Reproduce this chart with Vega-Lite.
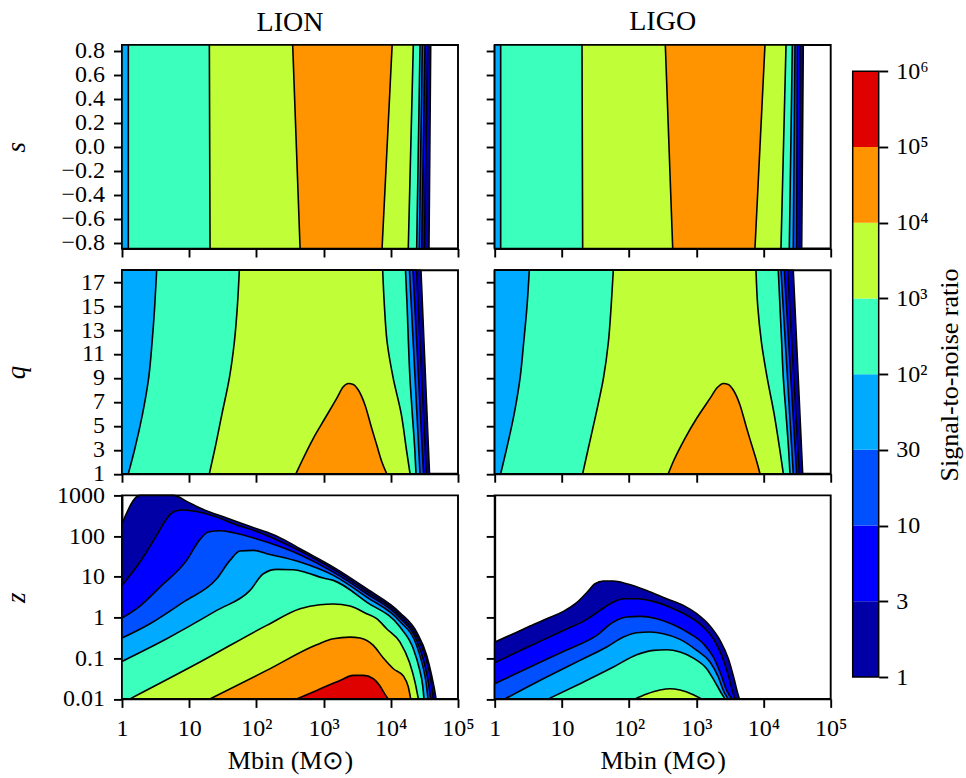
{
  "$schema": "https://vega.github.io/schema/vega-lite/v6.json",
  "background": "white",
  "padding": {"left": 1, "top": 6, "right": 5, "bottom": 5},
  "spacing": 3.7,
  "datasets": {
    "s_regions": [
      {"det": "LION", "level": "1", "s": -0.85, "lo": 0, "hi": 4.568},
      {"det": "LION", "level": "1", "s": 0.85, "lo": 0, "hi": 4.594},
      {"det": "LION", "level": "3", "s": -0.85, "lo": 0, "hi": 4.499},
      {"det": "LION", "level": "3", "s": 0.85, "lo": 0, "hi": 4.549},
      {"det": "LION", "level": "10", "s": -0.85, "lo": 0, "hi": 4.46},
      {"det": "LION", "level": "10", "s": 0.85, "lo": 0, "hi": 4.509},
      {"det": "LION", "level": "30", "s": -0.85, "lo": 0, "hi": 4.424},
      {"det": "LION", "level": "30", "s": 0.85, "lo": 0, "hi": 4.469},
      {"det": "LION", "level": "100", "s": -0.85, "lo": 0.094, "hi": 4.385},
      {"det": "LION", "level": "100", "s": 0.85, "lo": 0.094, "hi": 4.435},
      {"det": "LION", "level": "1000", "s": -0.85, "lo": 1.31, "hi": 4.26},
      {"det": "LION", "level": "1000", "s": 0.85, "lo": 1.3, "hi": 4.335},
      {"det": "LION", "level": "10000", "s": -0.85, "lo": 2.65, "hi": 3.87},
      {"det": "LION", "level": "10000", "s": 0.85, "lo": 2.54, "hi": 4.02},
      {"det": "LIGO", "level": "1", "s": -0.85, "lo": 0, "hi": 4.568},
      {"det": "LIGO", "level": "1", "s": 0.85, "lo": 0, "hi": 4.592},
      {"det": "LIGO", "level": "3", "s": -0.85, "lo": 0, "hi": 4.533},
      {"det": "LIGO", "level": "3", "s": 0.85, "lo": 0, "hi": 4.543},
      {"det": "LIGO", "level": "10", "s": -0.85, "lo": 0, "hi": 4.494},
      {"det": "LIGO", "level": "10", "s": 0.85, "lo": 0, "hi": 4.503},
      {"det": "LIGO", "level": "30", "s": -0.85, "lo": 0, "hi": 4.443},
      {"det": "LIGO", "level": "30", "s": 0.85, "lo": 0, "hi": 4.469},
      {"det": "LIGO", "level": "100", "s": -0.85, "lo": 0.089, "hi": 4.384},
      {"det": "LIGO", "level": "100", "s": 0.85, "lo": 0.089, "hi": 4.429},
      {"det": "LIGO", "level": "1000", "s": -0.85, "lo": 1.309, "hi": 4.26},
      {"det": "LIGO", "level": "1000", "s": 0.85, "lo": 1.299, "hi": 4.335},
      {"det": "LIGO", "level": "10000", "s": -0.85, "lo": 2.649, "hi": 3.873},
      {"det": "LIGO", "level": "10000", "s": 0.85, "lo": 2.539, "hi": 4.022}
    ],
    "q_regions": [
      {"det": "LION", "level": "1", "q": 1, "lo": 0, "hi": 4.576},
      {"det": "LION", "level": "1", "q": 18, "lo": 0, "hi": 4.449},
      {"det": "LION", "level": "3", "q": 1, "lo": 0, "hi": 4.53},
      {"det": "LION", "level": "3", "q": 18, "lo": 0, "hi": 4.383},
      {"det": "LION", "level": "10", "q": 1, "lo": 0, "hi": 4.487},
      {"det": "LION", "level": "10", "q": 18, "lo": 0, "hi": 4.33},
      {"det": "LION", "level": "30", "q": 1, "lo": 0, "hi": 4.435},
      {"det": "LION", "level": "30", "q": 18, "lo": 0, "hi": 4.278},
      {"det": "LION", "level": "100", "q": 1, "lo": 0.094, "hi": 4.375},
      {"det": "LION", "level": "100", "q": 3, "lo": 0.187, "hi": 4.357},
      {"det": "LION", "level": "100", "q": 6, "lo": 0.306, "hi": 4.32},
      {"det": "LION", "level": "100", "q": 9, "lo": 0.397, "hi": 4.285},
      {"det": "LION", "level": "100", "q": 12, "lo": 0.448, "hi": 4.262},
      {"det": "LION", "level": "100", "q": 15, "lo": 0.487, "hi": 4.243},
      {"det": "LION", "level": "100", "q": 18, "lo": 0.516, "hi": 4.219},
      {"det": "LION", "level": "1000", "q": 1, "lo": 1.3, "hi": 4.286},
      {"det": "LION", "level": "1000", "q": 3, "lo": 1.379, "hi": 4.233},
      {"det": "LION", "level": "1000", "q": 6, "lo": 1.488, "hi": 4.155},
      {"det": "LION", "level": "1000", "q": 9, "lo": 1.598, "hi": 4.035},
      {"det": "LION", "level": "1000", "q": 12, "lo": 1.672, "hi": 3.945},
      {"det": "LION", "level": "1000", "q": 15, "lo": 1.717, "hi": 3.905},
      {"det": "LION", "level": "1000", "q": 18, "lo": 1.746, "hi": 3.879},
      {"det": "LIGO", "level": "1", "q": 1, "lo": 0, "hi": 4.583},
      {"det": "LIGO", "level": "1", "q": 18, "lo": 0, "hi": 4.443},
      {"det": "LIGO", "level": "3", "q": 1, "lo": 0, "hi": 4.533},
      {"det": "LIGO", "level": "3", "q": 18, "lo": 0, "hi": 4.36},
      {"det": "LIGO", "level": "10", "q": 1, "lo": 0, "hi": 4.494},
      {"det": "LIGO", "level": "10", "q": 18, "lo": 0, "hi": 4.31},
      {"det": "LIGO", "level": "30", "q": 1, "lo": 0, "hi": 4.443},
      {"det": "LIGO", "level": "30", "q": 18, "lo": 0, "hi": 4.26},
      {"det": "LIGO", "level": "100", "q": 1, "lo": 0.089, "hi": 4.394},
      {"det": "LIGO", "level": "100", "q": 3, "lo": 0.174, "hi": 4.374},
      {"det": "LIGO", "level": "100", "q": 6, "lo": 0.29, "hi": 4.335},
      {"det": "LIGO", "level": "100", "q": 9, "lo": 0.378, "hi": 4.295},
      {"det": "LIGO", "level": "100", "q": 12, "lo": 0.432, "hi": 4.27},
      {"det": "LIGO", "level": "100", "q": 15, "lo": 0.481, "hi": 4.245},
      {"det": "LIGO", "level": "100", "q": 18, "lo": 0.515, "hi": 4.22},
      {"det": "LIGO", "level": "1000", "q": 1, "lo": 1.309, "hi": 4.295},
      {"det": "LIGO", "level": "1000", "q": 3, "lo": 1.388, "hi": 4.243},
      {"det": "LIGO", "level": "1000", "q": 6, "lo": 1.508, "hi": 4.158},
      {"det": "LIGO", "level": "1000", "q": 9, "lo": 1.619, "hi": 4.055},
      {"det": "LIGO", "level": "1000", "q": 12, "lo": 1.692, "hi": 3.969},
      {"det": "LIGO", "level": "1000", "q": 15, "lo": 1.733, "hi": 3.914},
      {"det": "LIGO", "level": "1000", "q": 18, "lo": 1.765, "hi": 3.888}
    ],
    "q_peak": [
      {"det": "LION", "level": "10000", "logM": 2.589, "q": 1},
      {"det": "LION", "level": "10000", "logM": 2.674, "q": 2.02},
      {"det": "LION", "level": "10000", "logM": 2.847, "q": 3.96},
      {"det": "LION", "level": "10000", "logM": 3.021, "q": 5.63},
      {"det": "LION", "level": "10000", "logM": 3.195, "q": 7.29},
      {"det": "LION", "level": "10000", "logM": 3.293, "q": 8.26},
      {"det": "LION", "level": "10000", "logM": 3.368, "q": 8.54},
      {"det": "LION", "level": "10000", "logM": 3.442, "q": 8.46},
      {"det": "LION", "level": "10000", "logM": 3.517, "q": 7.99},
      {"det": "LION", "level": "10000", "logM": 3.616, "q": 6.74},
      {"det": "LION", "level": "10000", "logM": 3.716, "q": 4.79},
      {"det": "LION", "level": "10000", "logM": 3.79, "q": 3.41},
      {"det": "LION", "level": "10000", "logM": 3.865, "q": 2.02},
      {"det": "LION", "level": "10000", "logM": 3.939, "q": 1},
      {"det": "LIGO", "level": "10000", "logM": 2.583, "q": 1},
      {"det": "LIGO", "level": "10000", "logM": 2.658, "q": 2.02},
      {"det": "LIGO", "level": "10000", "logM": 2.832, "q": 3.96},
      {"det": "LIGO", "level": "10000", "logM": 3.006, "q": 5.63},
      {"det": "LIGO", "level": "10000", "logM": 3.204, "q": 7.29},
      {"det": "LIGO", "level": "10000", "logM": 3.313, "q": 8.2},
      {"det": "LIGO", "level": "10000", "logM": 3.402, "q": 8.54},
      {"det": "LIGO", "level": "10000", "logM": 3.476, "q": 8.46},
      {"det": "LIGO", "level": "10000", "logM": 3.551, "q": 7.99},
      {"det": "LIGO", "level": "10000", "logM": 3.65, "q": 6.74},
      {"det": "LIGO", "level": "10000", "logM": 3.75, "q": 4.79},
      {"det": "LIGO", "level": "10000", "logM": 3.824, "q": 3.41},
      {"det": "LIGO", "level": "10000", "logM": 3.899, "q": 2.02},
      {"det": "LIGO", "level": "10000", "logM": 3.948, "q": 1}
    ],
    "z_regions": [
      {"det": "LION", "level": "1", "logM": 0, "logz": 2.304},
      {"det": "LION", "level": "1", "logM": 0.268, "logz": 3},
      {"det": "LION", "level": "1", "logM": 0.764, "logz": 3},
      {"det": "LION", "level": "1", "logM": 0.962, "logz": 2.853},
      {"det": "LION", "level": "1", "logM": 1.161, "logz": 2.689},
      {"det": "LION", "level": "1", "logM": 1.558, "logz": 2.443},
      {"det": "LION", "level": "1", "logM": 2.004, "logz": 2.181},
      {"det": "LION", "level": "1", "logM": 2.153, "logz": 2.099},
      {"det": "LION", "level": "1", "logM": 2.401, "logz": 1.919},
      {"det": "LION", "level": "1", "logM": 2.649, "logz": 1.69},
      {"det": "LION", "level": "1", "logM": 3.145, "logz": 1.239},
      {"det": "LION", "level": "1", "logM": 3.641, "logz": 0.707},
      {"det": "LION", "level": "1", "logM": 4.137, "logz": 0.117},
      {"det": "LION", "level": "1", "logM": 4.385, "logz": -0.358},
      {"det": "LION", "level": "1", "logM": 4.534, "logz": -0.931},
      {"det": "LION", "level": "1", "logM": 4.608, "logz": -1.423},
      {"det": "LION", "level": "1", "logM": 4.648, "logz": -1.75},
      {"det": "LION", "level": "1", "logM": 4.673, "logz": -2},
      {"det": "LION", "level": "3", "logM": 0, "logz": 0.789},
      {"det": "LION", "level": "3", "logM": 0.268, "logz": 1.362},
      {"det": "LION", "level": "3", "logM": 0.516, "logz": 2.017},
      {"det": "LION", "level": "3", "logM": 0.665, "logz": 2.427},
      {"det": "LION", "level": "3", "logM": 0.764, "logz": 2.59},
      {"det": "LION", "level": "3", "logM": 0.888, "logz": 2.64},
      {"det": "LION", "level": "3", "logM": 1.062, "logz": 2.615},
      {"det": "LION", "level": "3", "logM": 1.409, "logz": 2.468},
      {"det": "LION", "level": "3", "logM": 1.657, "logz": 2.304},
      {"det": "LION", "level": "3", "logM": 2.004, "logz": 2.115},
      {"det": "LION", "level": "3", "logM": 2.153, "logz": 2.017},
      {"det": "LION", "level": "3", "logM": 2.649, "logz": 1.632},
      {"det": "LION", "level": "3", "logM": 3.145, "logz": 1.182},
      {"det": "LION", "level": "3", "logM": 3.641, "logz": 0.641},
      {"det": "LION", "level": "3", "logM": 4.137, "logz": 0.052},
      {"det": "LION", "level": "3", "logM": 4.385, "logz": -0.456},
      {"det": "LION", "level": "3", "logM": 4.524, "logz": -1.013},
      {"det": "LION", "level": "3", "logM": 4.593, "logz": -1.505},
      {"det": "LION", "level": "3", "logM": 4.633, "logz": -2},
      {"det": "LION", "level": "10", "logM": 0, "logz": -0.014},
      {"det": "LION", "level": "10", "logM": 0.268, "logz": 0.281},
      {"det": "LION", "level": "10", "logM": 0.565, "logz": 0.748},
      {"det": "LION", "level": "10", "logM": 0.962, "logz": 1.403},
      {"det": "LION", "level": "10", "logM": 1.161, "logz": 1.919},
      {"det": "LION", "level": "10", "logM": 1.285, "logz": 2.099},
      {"det": "LION", "level": "10", "logM": 1.458, "logz": 2.132},
      {"det": "LION", "level": "10", "logM": 1.657, "logz": 2.083},
      {"det": "LION", "level": "10", "logM": 2.153, "logz": 1.853},
      {"det": "LION", "level": "10", "logM": 2.649, "logz": 1.542},
      {"det": "LION", "level": "10", "logM": 3.145, "logz": 1.116},
      {"det": "LION", "level": "10", "logM": 3.641, "logz": 0.584},
      {"det": "LION", "level": "10", "logM": 4.137, "logz": -0.014},
      {"det": "LION", "level": "10", "logM": 4.385, "logz": -0.563},
      {"det": "LION", "level": "10", "logM": 4.494, "logz": -1.095},
      {"det": "LION", "level": "10", "logM": 4.558, "logz": -1.586},
      {"det": "LION", "level": "10", "logM": 4.593, "logz": -2},
      {"det": "LION", "level": "30", "logM": 0, "logz": -0.505},
      {"det": "LION", "level": "30", "logM": 0.417, "logz": -0.153},
      {"det": "LION", "level": "30", "logM": 0.913, "logz": 0.379},
      {"det": "LION", "level": "30", "logM": 1.409, "logz": 0.952},
      {"det": "LION", "level": "30", "logM": 1.607, "logz": 1.403},
      {"det": "LION", "level": "30", "logM": 1.756, "logz": 1.632},
      {"det": "LION", "level": "30", "logM": 1.954, "logz": 1.649},
      {"det": "LION", "level": "30", "logM": 2.153, "logz": 1.567},
      {"det": "LION", "level": "30", "logM": 2.649, "logz": 1.362},
      {"det": "LION", "level": "30", "logM": 3.145, "logz": 1.034},
      {"det": "LION", "level": "30", "logM": 3.641, "logz": 0.502},
      {"det": "LION", "level": "30", "logM": 4.137, "logz": -0.096},
      {"det": "LION", "level": "30", "logM": 4.385, "logz": -0.686},
      {"det": "LION", "level": "30", "logM": 4.474, "logz": -1.177},
      {"det": "LION", "level": "30", "logM": 4.524, "logz": -1.586},
      {"det": "LION", "level": "30", "logM": 4.554, "logz": -2},
      {"det": "LION", "level": "100", "logM": 0, "logz": -1.079},
      {"det": "LION", "level": "100", "logM": 0.665, "logz": -0.522},
      {"det": "LION", "level": "100", "logM": 1.409, "logz": 0.174},
      {"det": "LION", "level": "100", "logM": 1.905, "logz": 0.666},
      {"det": "LION", "level": "100", "logM": 2.103, "logz": 1.075},
      {"det": "LION", "level": "100", "logM": 2.302, "logz": 1.182},
      {"det": "LION", "level": "100", "logM": 2.55, "logz": 1.174},
      {"det": "LION", "level": "100", "logM": 2.748, "logz": 1.1},
      {"det": "LION", "level": "100", "logM": 2.996, "logz": 0.969},
      {"det": "LION", "level": "100", "logM": 3.145, "logz": 0.912},
      {"det": "LION", "level": "100", "logM": 3.641, "logz": 0.379},
      {"det": "LION", "level": "100", "logM": 4.137, "logz": -0.235},
      {"det": "LION", "level": "100", "logM": 4.335, "logz": -0.767},
      {"det": "LION", "level": "100", "logM": 4.425, "logz": -1.259},
      {"det": "LION", "level": "100", "logM": 4.474, "logz": -1.668},
      {"det": "LION", "level": "100", "logM": 4.494, "logz": -2},
      {"det": "LION", "level": "1000", "logM": 0.119, "logz": -2},
      {"det": "LION", "level": "1000", "logM": 1.161, "logz": -1.095},
      {"det": "LION", "level": "1000", "logM": 2.153, "logz": -0.194},
      {"det": "LION", "level": "1000", "logM": 2.649, "logz": 0.215},
      {"det": "LION", "level": "1000", "logM": 2.946, "logz": 0.314},
      {"det": "LION", "level": "1000", "logM": 3.145, "logz": 0.33},
      {"det": "LION", "level": "1000", "logM": 3.393, "logz": 0.281},
      {"det": "LION", "level": "1000", "logM": 3.641, "logz": 0.093},
      {"det": "LION", "level": "1000", "logM": 3.79, "logz": -0.03},
      {"det": "LION", "level": "1000", "logM": 3.938, "logz": -0.276},
      {"det": "LION", "level": "1000", "logM": 4.137, "logz": -0.604},
      {"det": "LION", "level": "1000", "logM": 4.276, "logz": -1.095},
      {"det": "LION", "level": "1000", "logM": 4.36, "logz": -1.586},
      {"det": "LION", "level": "1000", "logM": 4.41, "logz": -2},
      {"det": "LION", "level": "10000", "logM": 1.31, "logz": -2},
      {"det": "LION", "level": "10000", "logM": 2.153, "logz": -1.3},
      {"det": "LION", "level": "10000", "logM": 2.897, "logz": -0.669},
      {"det": "LION", "level": "10000", "logM": 3.145, "logz": -0.522},
      {"det": "LION", "level": "10000", "logM": 3.393, "logz": -0.481},
      {"det": "LION", "level": "10000", "logM": 3.542, "logz": -0.505},
      {"det": "LION", "level": "10000", "logM": 3.74, "logz": -0.686},
      {"det": "LION", "level": "10000", "logM": 3.889, "logz": -0.997},
      {"det": "LION", "level": "10000", "logM": 4.038, "logz": -1.259},
      {"det": "LION", "level": "10000", "logM": 4.187, "logz": -1.439},
      {"det": "LION", "level": "10000", "logM": 4.261, "logz": -1.709},
      {"det": "LION", "level": "10000", "logM": 4.296, "logz": -2},
      {"det": "LION", "level": "100000", "logM": 2.599, "logz": -2},
      {"det": "LION", "level": "100000", "logM": 2.897, "logz": -1.791},
      {"det": "LION", "level": "100000", "logM": 3.244, "logz": -1.545},
      {"det": "LION", "level": "100000", "logM": 3.442, "logz": -1.423},
      {"det": "LION", "level": "100000", "logM": 3.591, "logz": -1.423},
      {"det": "LION", "level": "100000", "logM": 3.74, "logz": -1.504},
      {"det": "LION", "level": "100000", "logM": 3.839, "logz": -1.685},
      {"det": "LION", "level": "100000", "logM": 3.914, "logz": -1.889},
      {"det": "LION", "level": "100000", "logM": 3.963, "logz": -2},
      {"det": "LIGO", "level": "1", "logM": 0, "logz": -0.604},
      {"det": "LIGO", "level": "1", "logM": 0.278, "logz": -0.399},
      {"det": "LIGO", "level": "1", "logM": 0.526, "logz": -0.21},
      {"det": "LIGO", "level": "1", "logM": 0.774, "logz": -0.03},
      {"det": "LIGO", "level": "1", "logM": 1.022, "logz": 0.15},
      {"det": "LIGO", "level": "1", "logM": 1.22, "logz": 0.363},
      {"det": "LIGO", "level": "1", "logM": 1.369, "logz": 0.609},
      {"det": "LIGO", "level": "1", "logM": 1.493, "logz": 0.83},
      {"det": "LIGO", "level": "1", "logM": 1.617, "logz": 0.895},
      {"det": "LIGO", "level": "1", "logM": 1.766, "logz": 0.895},
      {"det": "LIGO", "level": "1", "logM": 1.964, "logz": 0.83},
      {"det": "LIGO", "level": "1", "logM": 2.262, "logz": 0.666},
      {"det": "LIGO", "level": "1", "logM": 2.56, "logz": 0.461},
      {"det": "LIGO", "level": "1", "logM": 2.808, "logz": 0.297},
      {"det": "LIGO", "level": "1", "logM": 3.006, "logz": 0.093},
      {"det": "LIGO", "level": "1", "logM": 3.204, "logz": -0.21},
      {"det": "LIGO", "level": "1", "logM": 3.353, "logz": -0.563},
      {"det": "LIGO", "level": "1", "logM": 3.477, "logz": -1.013},
      {"det": "LIGO", "level": "1", "logM": 3.562, "logz": -1.505},
      {"det": "LIGO", "level": "1", "logM": 3.611, "logz": -1.832},
      {"det": "LIGO", "level": "1", "logM": 3.641, "logz": -2},
      {"det": "LIGO", "level": "3", "logM": 0, "logz": -1.111},
      {"det": "LIGO", "level": "3", "logM": 0.526, "logz": -0.702},
      {"det": "LIGO", "level": "3", "logM": 1.022, "logz": -0.317},
      {"det": "LIGO", "level": "3", "logM": 1.369, "logz": -0.047},
      {"det": "LIGO", "level": "3", "logM": 1.567, "logz": 0.174},
      {"det": "LIGO", "level": "3", "logM": 1.766, "logz": 0.379},
      {"det": "LIGO", "level": "3", "logM": 1.915, "logz": 0.461},
      {"det": "LIGO", "level": "3", "logM": 2.113, "logz": 0.461},
      {"det": "LIGO", "level": "3", "logM": 2.361, "logz": 0.396},
      {"det": "LIGO", "level": "3", "logM": 2.659, "logz": 0.215},
      {"det": "LIGO", "level": "3", "logM": 2.907, "logz": 0.011},
      {"det": "LIGO", "level": "3", "logM": 3.105, "logz": -0.235},
      {"det": "LIGO", "level": "3", "logM": 3.254, "logz": -0.522},
      {"det": "LIGO", "level": "3", "logM": 3.378, "logz": -0.931},
      {"det": "LIGO", "level": "3", "logM": 3.477, "logz": -1.423},
      {"det": "LIGO", "level": "3", "logM": 3.542, "logz": -1.832},
      {"det": "LIGO", "level": "3", "logM": 3.576, "logz": -2},
      {"det": "LIGO", "level": "10", "logM": 0, "logz": -1.627},
      {"det": "LIGO", "level": "10", "logM": 0.526, "logz": -1.218},
      {"det": "LIGO", "level": "10", "logM": 1.022, "logz": -0.833},
      {"det": "LIGO", "level": "10", "logM": 1.518, "logz": -0.44},
      {"det": "LIGO", "level": "10", "logM": 1.766, "logz": -0.112},
      {"det": "LIGO", "level": "10", "logM": 1.964, "logz": 0.011},
      {"det": "LIGO", "level": "10", "logM": 2.163, "logz": 0.027},
      {"det": "LIGO", "level": "10", "logM": 2.411, "logz": -0.03},
      {"det": "LIGO", "level": "10", "logM": 2.659, "logz": -0.178},
      {"det": "LIGO", "level": "10", "logM": 2.907, "logz": -0.399},
      {"det": "LIGO", "level": "10", "logM": 3.105, "logz": -0.645},
      {"det": "LIGO", "level": "10", "logM": 3.254, "logz": -0.972},
      {"det": "LIGO", "level": "10", "logM": 3.363, "logz": -1.382},
      {"det": "LIGO", "level": "10", "logM": 3.452, "logz": -1.791},
      {"det": "LIGO", "level": "10", "logM": 3.527, "logz": -2},
      {"det": "LIGO", "level": "30", "logM": 0.154, "logz": -2},
      {"det": "LIGO", "level": "30", "logM": 0.774, "logz": -1.464},
      {"det": "LIGO", "level": "30", "logM": 1.27, "logz": -1.054},
      {"det": "LIGO", "level": "30", "logM": 1.667, "logz": -0.726},
      {"det": "LIGO", "level": "30", "logM": 1.915, "logz": -0.481},
      {"det": "LIGO", "level": "30", "logM": 2.113, "logz": -0.374},
      {"det": "LIGO", "level": "30", "logM": 2.312, "logz": -0.358},
      {"det": "LIGO", "level": "30", "logM": 2.51, "logz": -0.399},
      {"det": "LIGO", "level": "30", "logM": 2.758, "logz": -0.538},
      {"det": "LIGO", "level": "30", "logM": 3.006, "logz": -0.808},
      {"det": "LIGO", "level": "30", "logM": 3.204, "logz": -1.095},
      {"det": "LIGO", "level": "30", "logM": 3.328, "logz": -1.464},
      {"det": "LIGO", "level": "30", "logM": 3.413, "logz": -1.832},
      {"det": "LIGO", "level": "30", "logM": 3.477, "logz": -2},
      {"det": "LIGO", "level": "100", "logM": 0.799, "logz": -2},
      {"det": "LIGO", "level": "100", "logM": 1.27, "logz": -1.627},
      {"det": "LIGO", "level": "100", "logM": 1.766, "logz": -1.218},
      {"det": "LIGO", "level": "100", "logM": 2.113, "logz": -0.915},
      {"det": "LIGO", "level": "100", "logM": 2.361, "logz": -0.808},
      {"det": "LIGO", "level": "100", "logM": 2.56, "logz": -0.792},
      {"det": "LIGO", "level": "100", "logM": 2.758, "logz": -0.849},
      {"det": "LIGO", "level": "100", "logM": 2.956, "logz": -0.997},
      {"det": "LIGO", "level": "100", "logM": 3.155, "logz": -1.259},
      {"det": "LIGO", "level": "100", "logM": 3.279, "logz": -1.586},
      {"det": "LIGO", "level": "100", "logM": 3.378, "logz": -1.873},
      {"det": "LIGO", "level": "100", "logM": 3.428, "logz": -2},
      {"det": "LIGO", "level": "1000", "logM": 2.088, "logz": -2},
      {"det": "LIGO", "level": "1000", "logM": 2.262, "logz": -1.881},
      {"det": "LIGO", "level": "1000", "logM": 2.46, "logz": -1.783},
      {"det": "LIGO", "level": "1000", "logM": 2.609, "logz": -1.75},
      {"det": "LIGO", "level": "1000", "logM": 2.758, "logz": -1.783},
      {"det": "LIGO", "level": "1000", "logM": 2.956, "logz": -1.898},
      {"det": "LIGO", "level": "1000", "logM": 3.08, "logz": -2}
    ],
    "cbar": [
      {"level": "1", "lo": 0, "hi": 1},
      {"level": "3", "lo": 1, "hi": 2},
      {"level": "10", "lo": 2, "hi": 3},
      {"level": "30", "lo": 3, "hi": 4},
      {"level": "100", "lo": 4, "hi": 5},
      {"level": "1000", "lo": 5, "hi": 6},
      {"level": "10000", "lo": 6, "hi": 7},
      {"level": "100000", "lo": 7, "hi": 8}
    ]
  },
  "hconcat": [
    {
      "columns": 2,
      "bounds": "flush",
      "spacing": {"row": 21.2, "column": 36.7},
      "concat": [
        {
          "width": 336, "height": 203.5,
          "title": {"text": "LION", "offset": 2.4},
          "data": {"name": "s_regions"},
          "transform": [{"filter": "datum.det == 'LION'"}],
          "mark": {"type": "area", "orient": "horizontal", "stroke": "black", "strokeWidth": 1.6, "strokeJoin": "round"},
          "encoding": {
            "y": {"field": "s", "type": "quantitative", "scale": {"domain": [-0.85, 0.85], "nice": false, "zero": false},
                  "axis": {"values": [-0.8, -0.6, -0.4, -0.2, 0, 0.2, 0.4, 0.6, 0.8], "labelExpr": "replace(format(datum.value, '.1f'), '-', '−')", "title": "s", "titleFontStyle": "italic", "titleX": -106, "titleY": 101.75, "titleAngle": 270, "titleAlign": "center", "titleBaseline": "middle", "titleFontSize": 27}},
            "x": {"field": "lo", "type": "quantitative", "stack": null, "scale": {"domain": [0, 5], "nice": false, "zero": false},
                  "axis": {"values": [0, 1, 2, 3, 4, 5], "labels": false, "title": null}},
            "x2": {"field": "hi"},
            "fill": {"field": "level", "type": "nominal", "legend": null,
                     "scale": {"domain": ["1", "3", "10", "30", "100", "1000", "10000", "100000"], "range": ["#0000A6", "#0000FF", "#0050FF", "#00AAFF", "#3BFFBD", "#C0FF37", "#FF9400", "#DF0000"]}}
          }
        },
        {
          "width": 336, "height": 203.5,
          "title": {"text": "LIGO", "offset": 8.4},
          "data": {"name": "s_regions"},
          "transform": [{"filter": "datum.det == 'LIGO'"}],
          "mark": {"type": "area", "orient": "horizontal", "stroke": "black", "strokeWidth": 1.6, "strokeJoin": "round"},
          "encoding": {
            "y": {"field": "s", "type": "quantitative", "scale": {"domain": [-0.85, 0.85], "nice": false, "zero": false},
                  "axis": {"values": [-0.8, -0.6, -0.4, -0.2, 0, 0.2, 0.4, 0.6, 0.8], "labels": false, "title": null}},
            "x": {"field": "lo", "type": "quantitative", "stack": null, "scale": {"domain": [0, 5], "nice": false, "zero": false},
                  "axis": {"values": [0, 1, 2, 3, 4, 5], "labels": false, "title": null}},
            "x2": {"field": "hi"},
            "fill": {"field": "level", "type": "nominal", "legend": null,
                     "scale": {"domain": ["1", "3", "10", "30", "100", "1000", "10000", "100000"], "range": ["#0000A6", "#0000FF", "#0050FF", "#00AAFF", "#3BFFBD", "#C0FF37", "#FF9400", "#DF0000"]}}
          }
        },
        {
          "width": 336, "height": 203.5,
          "layer": [
            {
              "data": {"name": "q_regions"},
              "transform": [{"filter": "datum.det == 'LION'"}],
              "mark": {"type": "area", "orient": "horizontal", "interpolate": "monotone", "stroke": "black", "strokeWidth": 1.6, "strokeJoin": "round"},
              "encoding": {
                "y": {"field": "q", "type": "quantitative", "scale": {"domain": [1, 18], "nice": false, "zero": false},
                      "axis": {"values": [1, 3, 5, 7, 9, 11, 13, 15, 17], "title": "q", "titleFontStyle": "italic", "titleX": -106, "titleY": 101.75, "titleAngle": 270, "titleAlign": "center", "titleBaseline": "middle", "titleFontSize": 27}},
                "x": {"field": "lo", "type": "quantitative", "stack": null, "scale": {"domain": [0, 5], "nice": false, "zero": false},
                      "axis": {"values": [0, 1, 2, 3, 4, 5], "labels": false, "title": null}},
                "x2": {"field": "hi"},
                "fill": {"field": "level", "type": "nominal", "legend": null,
                         "scale": {"domain": ["1", "3", "10", "30", "100", "1000", "10000", "100000"], "range": ["#0000A6", "#0000FF", "#0050FF", "#00AAFF", "#3BFFBD", "#C0FF37", "#FF9400", "#DF0000"]}}
              }
            },
            {
              "data": {"name": "q_peak"},
              "transform": [{"filter": "datum.det == 'LION'"}],
              "mark": {"type": "area", "interpolate": "monotone", "stroke": "black", "strokeWidth": 1.6, "strokeJoin": "round"},
              "encoding": {
                "x": {"field": "logM", "type": "quantitative", "scale": {"domain": [0, 5], "nice": false, "zero": false},
                      "axis": {"values": [0, 1, 2, 3, 4, 5], "labels": false, "title": null}},
                "y": {"field": "q", "type": "quantitative", "stack": null,
                      "axis": {"values": [1, 3, 5, 7, 9, 11, 13, 15, 17], "title": "q", "titleFontStyle": "italic", "titleX": -106, "titleY": 101.75, "titleAngle": 270, "titleAlign": "center", "titleBaseline": "middle", "titleFontSize": 27}},
                "y2": {"datum": 1},
                "fill": {"field": "level", "type": "nominal", "legend": null,
                         "scale": {"domain": ["1", "3", "10", "30", "100", "1000", "10000", "100000"], "range": ["#0000A6", "#0000FF", "#0050FF", "#00AAFF", "#3BFFBD", "#C0FF37", "#FF9400", "#DF0000"]}}
              }
            }
          ]
        },
        {
          "width": 336, "height": 203.5,
          "layer": [
            {
              "data": {"name": "q_regions"},
              "transform": [{"filter": "datum.det == 'LIGO'"}],
              "mark": {"type": "area", "orient": "horizontal", "interpolate": "monotone", "stroke": "black", "strokeWidth": 1.6, "strokeJoin": "round"},
              "encoding": {
                "y": {"field": "q", "type": "quantitative", "scale": {"domain": [1, 18], "nice": false, "zero": false},
                      "axis": {"values": [1, 3, 5, 7, 9, 11, 13, 15, 17], "labels": false, "title": null}},
                "x": {"field": "lo", "type": "quantitative", "stack": null, "scale": {"domain": [0, 5], "nice": false, "zero": false},
                      "axis": {"values": [0, 1, 2, 3, 4, 5], "labels": false, "title": null}},
                "x2": {"field": "hi"},
                "fill": {"field": "level", "type": "nominal", "legend": null,
                         "scale": {"domain": ["1", "3", "10", "30", "100", "1000", "10000", "100000"], "range": ["#0000A6", "#0000FF", "#0050FF", "#00AAFF", "#3BFFBD", "#C0FF37", "#FF9400", "#DF0000"]}}
              }
            },
            {
              "data": {"name": "q_peak"},
              "transform": [{"filter": "datum.det == 'LIGO'"}],
              "mark": {"type": "area", "interpolate": "monotone", "stroke": "black", "strokeWidth": 1.6, "strokeJoin": "round"},
              "encoding": {
                "x": {"field": "logM", "type": "quantitative", "scale": {"domain": [0, 5], "nice": false, "zero": false},
                      "axis": {"values": [0, 1, 2, 3, 4, 5], "labels": false, "title": null}},
                "y": {"field": "q", "type": "quantitative", "stack": null,
                      "axis": {"values": [1, 3, 5, 7, 9, 11, 13, 15, 17], "labels": false, "title": null}},
                "y2": {"datum": 1},
                "fill": {"field": "level", "type": "nominal", "legend": null,
                         "scale": {"domain": ["1", "3", "10", "30", "100", "1000", "10000", "100000"], "range": ["#0000A6", "#0000FF", "#0050FF", "#00AAFF", "#3BFFBD", "#C0FF37", "#FF9400", "#DF0000"]}}
              }
            }
          ]
        },
        {
          "width": 336, "height": 203.5,
          "data": {"name": "z_regions"},
          "transform": [{"filter": "datum.det == 'LION'"}],
          "mark": {"type": "area", "interpolate": "monotone", "stroke": "black", "strokeWidth": 1.6, "strokeJoin": "round"},
          "encoding": {
            "x": {"field": "logM", "type": "quantitative", "scale": {"domain": [0, 5], "nice": false, "zero": false},
                  "axis": {"values": [0, 1, 2, 3, 4, 5], "labelExpr": "['1', '10', '10²', '10³', '10⁴', '10⁵'][datum.value]", "title": "Mbin (M⊙)", "titleY": 70, "titleBaseline": "alphabetic"}},
            "y": {"field": "logz", "type": "quantitative", "stack": null, "scale": {"domain": [-2, 3], "nice": false, "zero": false},
                  "axis": {"values": [-2, -1, 0, 1, 2, 3], "labelExpr": "['0.01', '0.1', '1', '10', '100', '1000'][datum.value + 2]", "title": "z", "titleFontStyle": "italic", "titleX": -106, "titleY": 101.75, "titleAngle": 270, "titleAlign": "center", "titleBaseline": "middle", "titleFontSize": 27}},
            "y2": {"datum": -2},
            "fill": {"field": "level", "type": "nominal", "legend": null,
                     "scale": {"domain": ["1", "3", "10", "30", "100", "1000", "10000", "100000"], "range": ["#0000A6", "#0000FF", "#0050FF", "#00AAFF", "#3BFFBD", "#C0FF37", "#FF9400", "#DF0000"]}}
          }
        },
        {
          "width": 336, "height": 203.5,
          "data": {"name": "z_regions"},
          "transform": [{"filter": "datum.det == 'LIGO'"}],
          "mark": {"type": "area", "interpolate": "monotone", "stroke": "black", "strokeWidth": 1.6, "strokeJoin": "round"},
          "encoding": {
            "x": {"field": "logM", "type": "quantitative", "scale": {"domain": [0, 5], "nice": false, "zero": false},
                  "axis": {"values": [0, 1, 2, 3, 4, 5], "labelExpr": "['1', '10', '10²', '10³', '10⁴', '10⁵'][datum.value]", "title": "Mbin (M⊙)", "titleY": 70, "titleBaseline": "alphabetic"}},
            "y": {"field": "logz", "type": "quantitative", "stack": null, "scale": {"domain": [-2, 3], "nice": false, "zero": false},
                  "axis": {"values": [-2, -1, 0, 1, 2, 3], "labels": false, "title": null}},
            "y2": {"datum": -2},
            "fill": {"field": "level", "type": "nominal", "legend": null,
                     "scale": {"domain": ["1", "3", "10", "30", "100", "1000", "10000", "100000"], "range": ["#0000A6", "#0000FF", "#0050FF", "#00AAFF", "#3BFFBD", "#C0FF37", "#FF9400", "#DF0000"]}}
          }
        }
      ]
    },
    {
      "width": 26, "height": 632,
      "view": {"stroke": null},
      "layer": [
        {
          "data": {"name": "cbar"},
          "mark": {"type": "rect"},
          "encoding": {
            "y": {"field": "lo", "type": "quantitative", "scale": {"domain": [0, 8.347], "nice": false, "zero": false},
                  "axis": {"orient": "right", "values": [0, 1, 2, 3, 4, 5, 6, 7, 8], "labelExpr": "['1', '3', '10', '30', '10²', '10³', '10⁴', '10⁵', '10⁶'][datum.value]", "domain": false, "tickSize": 9, "labelPadding": 8, "title": "Signal-to-noise ratio", "titleAngle": 270, "titleX": 71, "titleY": 329.5, "titleAlign": "center", "titleBaseline": "middle", "titleFontSize": 26}},
            "y2": {"field": "hi"},
            "x": {"datum": 0, "type": "quantitative", "scale": {"domain": [0, 1], "nice": false, "zero": false}, "axis": null},
            "x2": {"datum": 1},
            "fill": {"field": "level", "type": "nominal", "legend": null,
                     "scale": {"domain": ["1", "3", "10", "30", "100", "1000", "10000", "100000"], "range": ["#0000A6", "#0000FF", "#0050FF", "#00AAFF", "#3BFFBD", "#C0FF37", "#FF9400", "#DF0000"]}}
          }
        },
        {
          "data": {"values": [{"lo": 0, "hi": 8}]},
          "mark": {"type": "rect", "fillOpacity": 0, "stroke": "black", "strokeWidth": 1.5},
          "encoding": {
            "y": {"field": "lo", "type": "quantitative"},
            "y2": {"field": "hi"},
            "x": {"datum": 0, "type": "quantitative"},
            "x2": {"datum": 1}
          }
        }
      ]
    }
  ],
  "config": {
    "font": "Liberation Serif",
    "view": {"stroke": "black", "strokeWidth": 1.9},
    "title": {"font": "Liberation Serif", "fontSize": 28, "fontWeight": "normal", "color": "black", "baseline": "alphabetic", "anchor": "middle"},
    "axis": {
      "grid": false,
      "labelFont": "Liberation Serif", "labelFontSize": 24, "labelColor": "black",
      "labelPadding": 9, "labelFlush": false, "labelOverlap": false, "labelBound": false,
      "tickColor": "black", "tickWidth": 1.9, "tickSize": 8.5,
      "domainColor": "black", "domainWidth": 1.9,
      "titleFont": "Liberation Serif", "titleFontSize": 26, "titleColor": "black", "titleFontWeight": "normal",
      "zindex": 1
    }
  }
}
